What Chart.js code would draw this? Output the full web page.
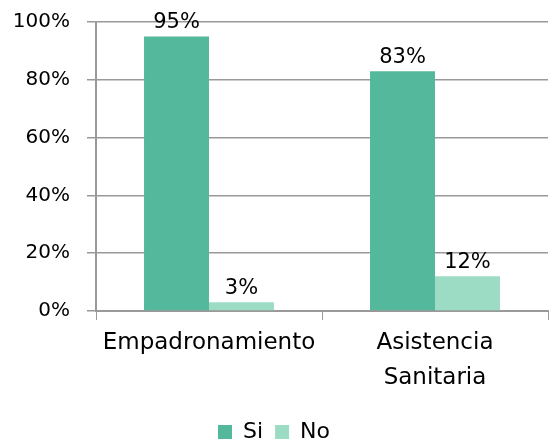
<!DOCTYPE html>
<html>
<head>
<meta charset="utf-8">
<script src="https://cdn.jsdelivr.net/npm/chart.js@4"></script>
<style>
  html, body { margin: 0; padding: 0; background: #fff; }
  #wrap { width: 549px; height: 443px; }
</style>
</head>
<body>
<div id="wrap"><canvas id="chart" width="549" height="443"></canvas></div>
<script>
// datos
const categories = [["Empadronamiento"], ["Asistencia", "Sanitaria"]];
const siValues = [95, 83];
const noValues = [3, 12];
const yTicks = [0, 20, 40, 60, 80, 100];

Chart.defaults.font.family = "'DejaVu Sans', sans-serif";
Chart.defaults.color = "#000";

// etiquetas de valor encima de cada barra
const valueLabels = {
  id: "valueLabels",
  afterDatasetsDraw(chart) {
    const ctx = chart.ctx;
    ctx.save();
    ctx.font = "21px 'DejaVu Sans', sans-serif";
    ctx.fillStyle = "#000";
    ctx.textAlign = "center";
    ctx.textBaseline = "bottom";
    chart.data.datasets.forEach((ds, i) => {
      chart.getDatasetMeta(i).data.forEach((bar, j) => {
        ctx.fillText(ds.data[j] + "%", bar.x, bar.y - 3);
      });
    });
    ctx.restore();
  }
};

const ctx = document.getElementById("chart").getContext("2d");
new Chart(ctx, {
  type: "bar",
  data: {
    labels: categories,
    datasets: [
      { label: "Si", data: siValues, backgroundColor: "#54b89c" },
      { label: "No", data: noValues, backgroundColor: "#9cdcc5" }
    ]
  },
  options: {
    responsive: false,
    animation: false,
    layout: { padding: { top: 22, right: 1, left: 0, bottom: -10 } },
    datasets: { bar: { categoryPercentage: 0.575, barPercentage: 1 } },
    plugins: {
      tooltip: { enabled: false },
      legend: {
        position: "bottom",
        labels: { boxWidth: 14, boxHeight: 14, padding: 12, font: { size: 22 } }
      }
    },
    scales: {
      x: {
        grid: { display: true, drawOnChartArea: false, color: "#999", tickLength: 9 },
        border: { color: "#999", width: 2 },
        ticks: { font: { size: 23, lineHeight: 1.5 }, padding: 6, maxRotation: 0 },
        afterFit(scale) { scale.height = 98; }
      },
      y: {
        min: 0,
        max: 100,
        afterBuildTicks(scale) { scale.ticks = yTicks.map(v => ({ value: v })); },
        grid: { color: "#999", lineWidth: 1.5, tickLength: 9 },
        border: { color: "#999", width: 2 },
        ticks: { font: { size: 20 }, padding: 17, callback: v => v + "%" },
        afterFit(scale) {
          scale.width = 96;
          scale.paddingTop = 0;
          scale.paddingBottom = 0;
        }
      }
    }
  },
  plugins: [valueLabels]
});
</script>
</body>
</html>
